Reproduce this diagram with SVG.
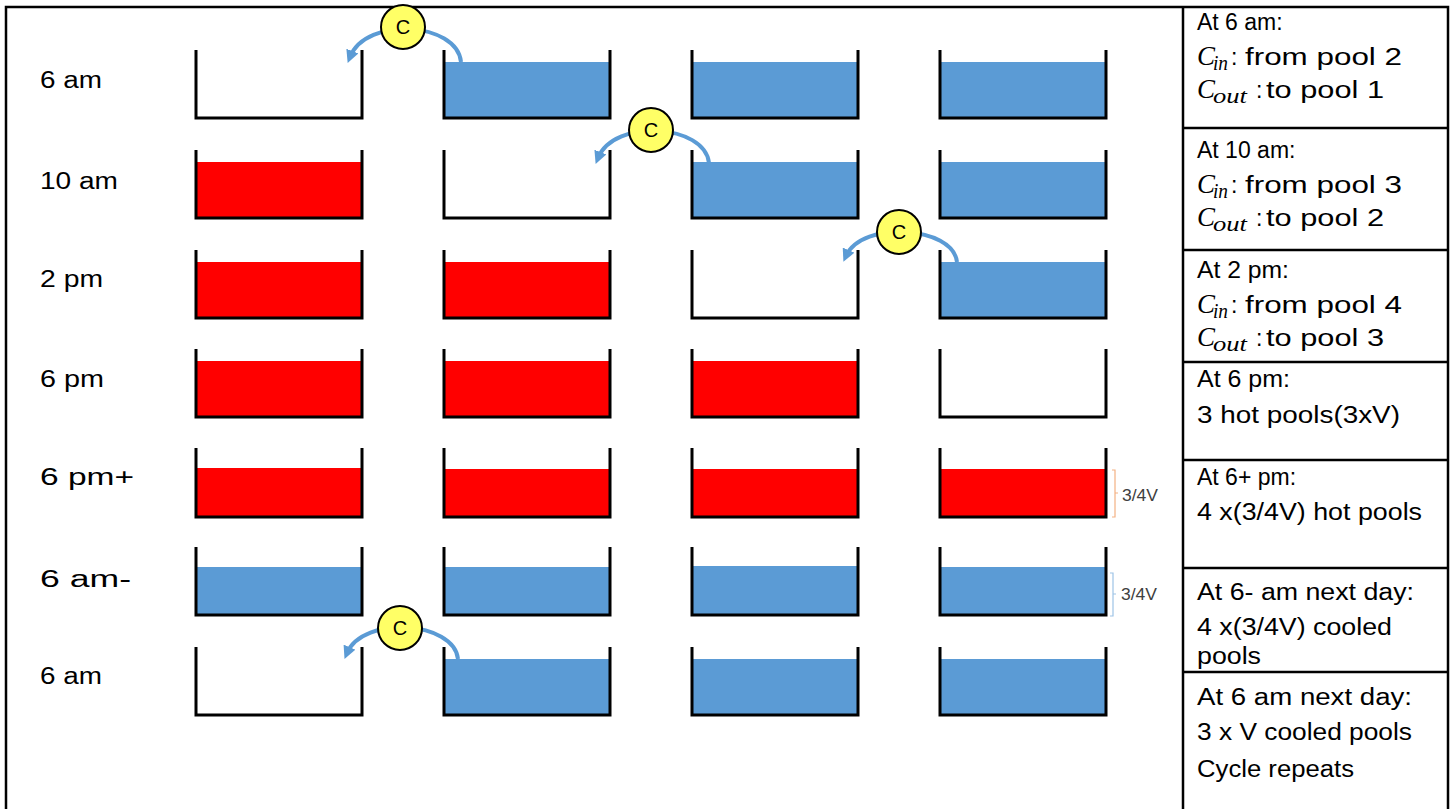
<svg xmlns="http://www.w3.org/2000/svg" width="1453" height="809" viewBox="0 0 1453 809">
<defs>
<style>
.wall{fill:none;stroke:#000;stroke-width:3;stroke-linejoin:miter}
.blue{fill:#5b9bd5}
.red{fill:#ff0000}
.lbl{font-family:"Liberation Sans",Arial,sans-serif;font-size:23px;fill:#000}
.m{font-family:"Liberation Serif","Times New Roman",serif;font-style:italic;font-size:27px}
.sub{font-family:"Liberation Serif","Times New Roman",serif;font-style:italic;font-size:20px}
.flow{fill:none;stroke:#5b9bd5;stroke-width:4}
.comp{fill:#ffff66;stroke:#000;stroke-width:2}
.ctext{font-family:"Liberation Sans",Arial,sans-serif;font-size:20px;fill:#000;text-anchor:middle}
.grid{stroke:#000;stroke-width:2.5;fill:none}
.small{font-family:"Liberation Sans",Arial,sans-serif;font-size:16px;fill:#404040}
</style>
<marker id="ah" viewBox="0 0 10 10" refX="5" refY="5" markerWidth="3.2" markerHeight="3.2" orient="auto" markerUnits="strokeWidth">
<path d="M0,0 L10,5 L0,10 z" fill="#5b9bd5"/>
</marker>
</defs>
<rect width="1453" height="809" fill="#fff"/>
<g id="frame">
<rect class="grid" x="6" y="7" width="1442" height="812"/>
<line class="grid" x1="1183" y1="7" x2="1183" y2="809"/>
<line class="grid" x1="1183" y1="128" x2="1448" y2="128"/>
<line class="grid" x1="1183" y1="250" x2="1448" y2="250"/>
<line class="grid" x1="1183" y1="362" x2="1448" y2="362"/>
<line class="grid" x1="1183" y1="460" x2="1448" y2="460"/>
<line class="grid" x1="1183" y1="568" x2="1448" y2="568"/>
<line class="grid" x1="1183" y1="672" x2="1448" y2="672"/>
</g>
<g id="time-labels">
<text class="lbl" x="40" y="88" textLength="62" lengthAdjust="spacingAndGlyphs">6 am</text>
<text class="lbl" x="40" y="189" textLength="78" lengthAdjust="spacingAndGlyphs">10 am</text>
<text class="lbl" x="40" y="287" textLength="63" lengthAdjust="spacingAndGlyphs">2 pm</text>
<text class="lbl" x="40" y="387" textLength="64" lengthAdjust="spacingAndGlyphs">6 pm</text>
<text class="lbl" x="40" y="485" textLength="94" lengthAdjust="spacingAndGlyphs">6 pm+</text>
<text class="lbl" x="40" y="587" textLength="91" lengthAdjust="spacingAndGlyphs">6 am-</text>
<text class="lbl" x="40" y="684" textLength="62" lengthAdjust="spacingAndGlyphs">6 am</text>
</g>
<!-- Row 1: 6 am -->
<g id="r1p1"><path class="wall" d="M196,50 V118 H362 V50"/></g>
<g id="r1p2"><rect class="blue" x="445" y="62" width="164" height="56"/><path class="wall" d="M444,50 V118 H610 V50"/></g>
<g id="r1p3"><rect class="blue" x="693" y="62" width="164" height="56"/><path class="wall" d="M692,50 V118 H858 V50"/></g>
<g id="r1p4"><rect class="blue" x="941" y="62" width="164" height="56"/><path class="wall" d="M940,50 V118 H1106 V50"/></g>
<!-- Row 2: 10 am -->
<g id="r2p1"><rect class="red" x="197" y="162" width="164" height="56"/><path class="wall" d="M196,150 V218 H362 V150"/></g>
<g id="r2p2"><path class="wall" d="M444,150 V218 H610 V150"/></g>
<g id="r2p3"><rect class="blue" x="693" y="162" width="164" height="56"/><path class="wall" d="M692,150 V218 H858 V150"/></g>
<g id="r2p4"><rect class="blue" x="941" y="162" width="164" height="56"/><path class="wall" d="M940,150 V218 H1106 V150"/></g>
<!-- Row 3: 2 pm -->
<g id="r3p1"><rect class="red" x="197" y="262" width="164" height="56"/><path class="wall" d="M196,250 V318 H362 V250"/></g>
<g id="r3p2"><rect class="red" x="445" y="262" width="164" height="56"/><path class="wall" d="M444,250 V318 H610 V250"/></g>
<g id="r3p3"><path class="wall" d="M692,250 V318 H858 V250"/></g>
<g id="r3p4"><rect class="blue" x="941" y="262" width="164" height="56"/><path class="wall" d="M940,250 V318 H1106 V250"/></g>
<!-- Row 4: 6 pm -->
<g id="r4p1"><rect class="red" x="197" y="361" width="164" height="56"/><path class="wall" d="M196,349 V417 H362 V349"/></g>
<g id="r4p2"><rect class="red" x="445" y="361" width="164" height="56"/><path class="wall" d="M444,349 V417 H610 V349"/></g>
<g id="r4p3"><rect class="red" x="693" y="361" width="164" height="56"/><path class="wall" d="M692,349 V417 H858 V349"/></g>
<g id="r4p4"><path class="wall" d="M940,349 V417 H1106 V349"/></g>
<!-- Row 5: 6 pm+ -->
<g id="r5p1"><rect class="red" x="197" y="468" width="164" height="49"/><path class="wall" d="M196,448 V517 H362 V448"/></g>
<g id="r5p2"><rect class="red" x="445" y="469" width="164" height="48"/><path class="wall" d="M444,448 V517 H610 V448"/></g>
<g id="r5p3"><rect class="red" x="693" y="469" width="164" height="48"/><path class="wall" d="M692,448 V517 H858 V448"/></g>
<g id="r5p4"><rect class="red" x="941" y="469" width="164" height="48"/><path class="wall" d="M940,448 V517 H1106 V448"/></g>
<!-- Row 6: 6 am- -->
<g id="r6p1"><rect class="blue" x="197" y="567" width="164" height="48"/><path class="wall" d="M196,547 V615 H362 V547"/></g>
<g id="r6p2"><rect class="blue" x="445" y="567" width="164" height="48"/><path class="wall" d="M444,547 V615 H610 V547"/></g>
<g id="r6p3"><rect class="blue" x="693" y="566" width="164" height="49"/><path class="wall" d="M692,547 V615 H858 V547"/></g>
<g id="r6p4"><rect class="blue" x="941" y="567" width="164" height="48"/><path class="wall" d="M940,547 V615 H1106 V547"/></g>
<!-- Row 7: 6 am -->
<g id="r7p1"><path class="wall" d="M196,647 V715 H362 V647"/></g>
<g id="r7p2"><rect class="blue" x="445" y="659" width="164" height="56"/><path class="wall" d="M444,647 V715 H610 V647"/></g>
<g id="r7p3"><rect class="blue" x="693" y="659" width="164" height="56"/><path class="wall" d="M692,647 V715 H858 V647"/></g>
<g id="r7p4"><rect class="blue" x="941" y="659" width="164" height="56"/><path class="wall" d="M940,647 V715 H1106 V647"/></g>
<g id="connectors">
<path class="flow" d="M461,62 C457,22 366,16 350,57" marker-end="url(#ah)"/>
<path class="flow" d="M709,163 C705,124 614,118 598,158" marker-end="url(#ah)"/>
<path class="flow" d="M957,262 C953,226 862,220 846,256" marker-end="url(#ah)"/>
<path class="flow" d="M458,659 C454,621 363,615 347,653" marker-end="url(#ah)"/>
</g>
<g id="c1"><circle class="comp" cx="403" cy="27" r="22"/><text class="ctext" x="403" y="34">C</text></g>
<g id="c2"><circle class="comp" cx="651" cy="130" r="22"/><text class="ctext" x="651" y="137">C</text></g>
<g id="c3"><circle class="comp" cx="899" cy="232" r="22"/><text class="ctext" x="899" y="239">C</text></g>
<g id="c4"><circle class="comp" cx="400" cy="628" r="22"/><text class="ctext" x="400" y="635">C</text></g>
<g id="brace1">
<path d="M1112,470 H1115 V517 H1112 M1115,493 H1118" fill="none" stroke="#f4b183" stroke-width="1.2"/>
<text class="small" x="1122" y="501" textLength="36" lengthAdjust="spacingAndGlyphs">3/4V</text>
</g>
<g id="brace2">
<path d="M1110,573 H1113 V616 H1110 M1113,594 H1116" fill="none" stroke="#9dc3e6" stroke-width="1.2"/>
<text class="small" x="1121" y="600" textLength="36" lengthAdjust="spacingAndGlyphs">3/4V</text>
</g>
<g id="notes">
<text class="lbl" x="1197" y="30">At 6 am:</text>
<text class="lbl" x="1197" y="65"><tspan class="m">C</tspan><tspan class="sub" x="1213" dy="5" textLength="15" lengthAdjust="spacingAndGlyphs">in</tspan><tspan x="1231" dy="-5">:</tspan><tspan x="1245" textLength="157" lengthAdjust="spacingAndGlyphs">from pool 2</tspan></text>
<text class="lbl" x="1197" y="98"><tspan class="m">C</tspan><tspan class="sub" x="1213" dy="5" textLength="34" lengthAdjust="spacingAndGlyphs">out</tspan><tspan x="1256" dy="-5">:</tspan><tspan x="1266" textLength="118" lengthAdjust="spacingAndGlyphs">to pool 1</tspan></text>
<text class="lbl" x="1197" y="158">At 10 am:</text>
<text class="lbl" x="1197" y="193"><tspan class="m">C</tspan><tspan class="sub" x="1213" dy="5" textLength="15" lengthAdjust="spacingAndGlyphs">in</tspan><tspan x="1231" dy="-5">:</tspan><tspan x="1245" textLength="157" lengthAdjust="spacingAndGlyphs">from pool 3</tspan></text>
<text class="lbl" x="1197" y="226"><tspan class="m">C</tspan><tspan class="sub" x="1213" dy="5" textLength="34" lengthAdjust="spacingAndGlyphs">out</tspan><tspan x="1256" dy="-5">:</tspan><tspan x="1266" textLength="118" lengthAdjust="spacingAndGlyphs">to pool 2</tspan></text>
<text class="lbl" x="1197" y="278" textLength="92" lengthAdjust="spacingAndGlyphs">At 2 pm:</text>
<text class="lbl" x="1197" y="313"><tspan class="m">C</tspan><tspan class="sub" x="1213" dy="5" textLength="15" lengthAdjust="spacingAndGlyphs">in</tspan><tspan x="1231" dy="-5">:</tspan><tspan x="1245" textLength="157" lengthAdjust="spacingAndGlyphs">from pool 4</tspan></text>
<text class="lbl" x="1197" y="346"><tspan class="m">C</tspan><tspan class="sub" x="1213" dy="5" textLength="34" lengthAdjust="spacingAndGlyphs">out</tspan><tspan x="1256" dy="-5">:</tspan><tspan x="1266" textLength="118" lengthAdjust="spacingAndGlyphs">to pool 3</tspan></text>
<text class="lbl" x="1197" y="387" textLength="93" lengthAdjust="spacingAndGlyphs">At 6 pm:</text>
<text class="lbl" x="1197" y="423" textLength="203" lengthAdjust="spacingAndGlyphs">3 hot pools(3xV)</text>
<text class="lbl" x="1197" y="485">At 6+ pm:</text>
<text class="lbl" x="1197" y="520" textLength="225" lengthAdjust="spacingAndGlyphs">4 x(3/4V) hot pools</text>
<text class="lbl" x="1197" y="600" textLength="217" lengthAdjust="spacingAndGlyphs">At 6- am next day:</text>
<text class="lbl" x="1197" y="635" textLength="195" lengthAdjust="spacingAndGlyphs">4 x(3/4V) cooled</text>
<text class="lbl" x="1197" y="664" textLength="64" lengthAdjust="spacingAndGlyphs">pools</text>
<text class="lbl" x="1197" y="705" textLength="215" lengthAdjust="spacingAndGlyphs">At 6 am next day:</text>
<text class="lbl" x="1197" y="740" textLength="215" lengthAdjust="spacingAndGlyphs">3 x V cooled pools</text>
<text class="lbl" x="1197" y="777" textLength="157" lengthAdjust="spacingAndGlyphs">Cycle repeats</text>
</g>
</svg>
